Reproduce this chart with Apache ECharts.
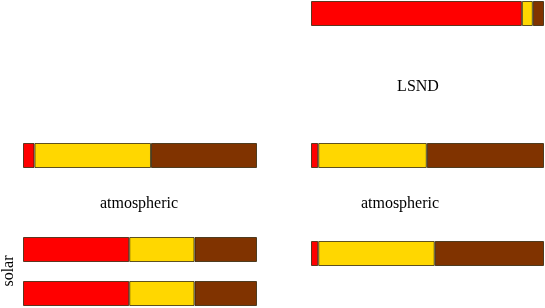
<!DOCTYPE html>
<html>
<head>
<meta charset="utf-8">
<script src="https://cdn.jsdelivr.net/npm/echarts@6/dist/echarts.min.js"></script>
<style>html,body{margin:0;padding:0;background:#fff}#c{width:545px;height:308px}</style>
</head>
<body>
<div id="c"></div>
<script>
// Flavour content of each mass state bar: nu_e, nu_mu, nu_tau fractions
var barNames = ['left-atm', 'left-sol1', 'left-sol2', 'right-lsnd', 'right-atm1', 'right-atm2'];
var nuE   = [0.049, 0.454, 0.454, 0.905, 0.031, 0.031];
var nuMu  = [0.498, 0.279, 0.279, 0.047, 0.466, 0.500];
var nuTau = [0.453, 0.267, 0.267, 0.048, 0.503, 0.469];
var flavourColors = ['#ff0000', '#ffd700', '#803300'];
var labels = ['atmospheric', 'solar', 'LSND', 'atmospheric'];

// bar placement boxes (layout only)
var boxes = [
  {left: 23, top: 143, width: 234, height: 25},
  {left: 23, top: 237, width: 234, height: 25},
  {left: 23, top: 281, width: 234, height: 25},
  {left: 311, top: 1, width: 233, height: 25},
  {left: 311, top: 143, width: 233, height: 25},
  {left: 311, top: 241, width: 233, height: 25}
];

var grids = [], xAxes = [], yAxes = [], series = [];
var flav = [nuE, nuMu, nuTau];
boxes.forEach(function (b, i) {
  grids.push({left: b.left, top: b.top, width: b.width, height: b.height});
  xAxes.push({type: 'value', gridIndex: i, min: 0, max: 1, show: false});
  yAxes.push({type: 'category', gridIndex: i, data: [barNames[i]], show: false});
  flav.forEach(function (arr, k) {
    series.push({
      type: 'bar', xAxisIndex: i, yAxisIndex: i, stack: 's' + i,
      data: [arr[i]], barWidth: '100%', barCategoryGap: 0,
      itemStyle: {color: flavourColors[k], borderColor: 'rgba(40,30,0,0.75)', borderWidth: 1},
      silent: true, animation: false
    });
  });
});

var font = '"Liberation Serif", "DejaVu Serif", serif';
var chart = echarts.init(document.getElementById('c'), null, {renderer: 'canvas'});
chart.setOption({
  animation: false,
  grid: grids, xAxis: xAxes, yAxis: yAxes, series: series,
  graphic: [
    {type: 'text', position: [139, 204], style: {text: labels[0], font: '16px ' + font, fill: '#000', textAlign: 'center', textVerticalAlign: 'middle'}},
    {type: 'text', rotation: Math.PI / 2, position: [9, 271], style: {text: labels[1], font: '16px ' + font, fill: '#000', textAlign: 'center', textVerticalAlign: 'middle'}},
    {type: 'text', position: [418, 87], style: {text: labels[2], font: '16px ' + font, fill: '#000', textAlign: 'center', textVerticalAlign: 'middle'}},
    {type: 'text', position: [400, 204], style: {text: labels[3], font: '16px ' + font, fill: '#000', textAlign: 'center', textVerticalAlign: 'middle'}}
  ]
});
</script>
</body>
</html>
